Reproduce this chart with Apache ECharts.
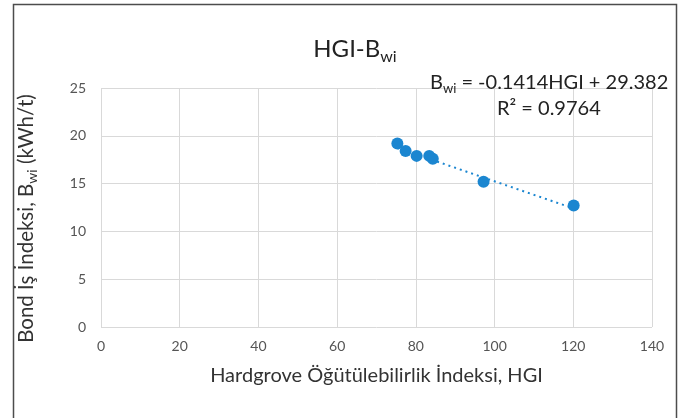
<!DOCTYPE html>
<html><head><meta charset="utf-8">
<script src="https://cdn.jsdelivr.net/npm/echarts@6/dist/echarts.min.js"></script>
<style>html,body{margin:0;padding:0;background:#fff}#c{width:681px;height:418px}</style>
</head><body><div id="c"></div>
<script>
const hgi = [75.3, 77.4, 80.2, 83.4, 84.3, 97.2, 120.1];
const bwi = [19.2, 18.4, 17.9, 17.9, 17.6, 15.2, 12.7];
const trendX = [75.3, 120.1];
const trendY = [18.73, 12.40];
const xTicks = [0, 20, 40, 60, 80, 100, 120, 140];
const yTicks = [0, 5, 10, 15, 20, 25];

const FONT = 'Lato, "Open Sans", sans-serif';
const blue = '#1b86d0';
const chart = echarts.init(document.getElementById('c'), null, {renderer: 'canvas'});
chart.setOption({
  animation: false,
  textStyle: {fontFamily: FONT},
  title: {
    text: '{m|HGI-B}{s|wi}',
    left: 350, top: 29, textAlign: 'center',
    textStyle: {rich: {
      m: {fontFamily: FONT, fontSize: 24, color: '#222', fontWeight: 'normal'},
      s: {fontFamily: FONT, fontSize: 16, color: '#222', fontWeight: 'normal', padding: [15, 0, 0, 0]}
    }}
  },
  grid: {left: 101, right: 29, top: 88, bottom: 91, containLabel: false},
  xAxis: {
    type: 'value', min: xTicks[0], max: xTicks[xTicks.length - 1], interval: 20,
    name: 'Hardgrove Öğütülebilirlik İndeksi, HGI', nameLocation: 'middle', nameGap: 39,
    nameTextStyle: {fontFamily: FONT, fontSize: 20, color: '#333'},
    axisLine: {show: false}, axisTick: {show: false},
    axisLabel: {fontFamily: FONT, fontSize: 14, color: '#555', margin: 12},
    splitLine: {show: true, lineStyle: {color: '#d9d9d9', width: 1}}
  },
  yAxis: {
    type: 'value', min: yTicks[0], max: yTicks[yTicks.length - 1], interval: 5,
    name: '{m|Bond İş İndeksi, B}{s|wi}{m| (kWh/t)}', nameLocation: 'middle', nameGap: 62, nameRotate: 90,
    nameTextStyle: {padding: [0, 22, 0, 0], rich: {
      m: {fontFamily: FONT, fontSize: 20.5, color: '#333'},
      s: {fontFamily: FONT, fontSize: 14, color: '#333', padding: [12, 0, 0, 0]}
    }},
    axisLine: {show: false}, axisTick: {show: false},
    axisLabel: {fontFamily: FONT, fontSize: 14, color: '#555', margin: 15},
    splitLine: {show: true, lineStyle: {color: '#d9d9d9', width: 1}}
  },
  series: [
    {
      type: 'line', data: trendX.map((x, i) => [x, trendY[i]]),
      symbol: 'none', lineStyle: {color: blue, width: 2, type: [2, 4]}, z: 2
    },
    {
      type: 'scatter', data: hgi.map((x, i) => [x, bwi[i]]),
      symbolSize: 12, itemStyle: {color: blue, opacity: 1}, z: 3
    }
  ],
  graphic: [
    {type: 'polyline', shape: {points: [[13.5, 420], [13.5, 4.5], [676.5, 4.5], [676.5, 420]]},
     style: {stroke: '#4d4d4d', lineWidth: 1.5, fill: null}, z: 10},
    {type: 'text', left: 430, top: 73, z: 10,
     style: {text: '{m|B}{s|wi}{m| = -0.1414HGI + 29.382}',
       rich: {
         m: {fontFamily: FONT, fontSize: 20, fill: '#222'},
         s: {fontFamily: FONT, fontSize: 13, fill: '#222', padding: [12, 0, 0, 0]}
       }}},
    {type: 'text', left: 497, top: 99, z: 10,
     style: {text: 'R² = 0.9764', fontFamily: FONT, fontSize: 20, fill: '#222'}}
  ]
});
</script></body></html>
